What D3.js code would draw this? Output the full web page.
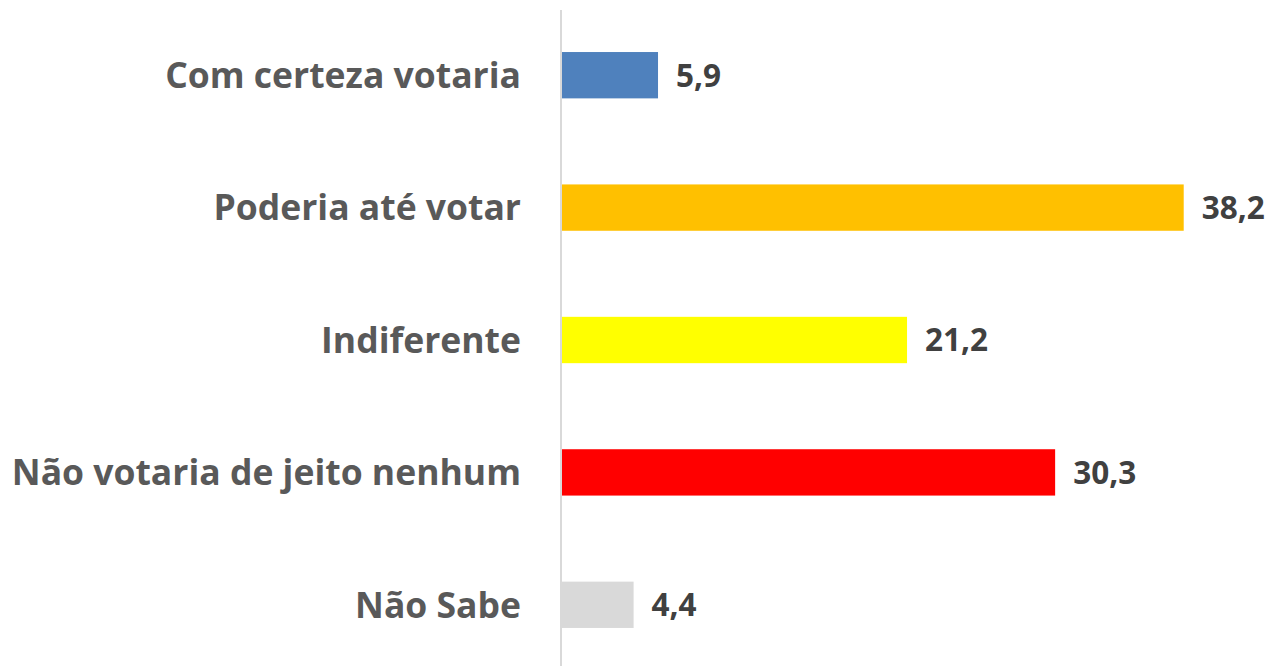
<!DOCTYPE html>
<html>
<head>
<meta charset="utf-8">
<script src="https://cdn.jsdelivr.net/npm/d3@7"></script>
<style>
  body { margin: 0; background: #fff; }
  text { font-family: "Open Sans", sans-serif; font-weight: bold; }
</style>
</head>
<body>
<svg id="chart" width="1270" height="666"></svg>
<script>
const categories = ['Com certeza votaria', 'Poderia até votar', 'Indiferente', 'Não votaria de jeito nenhum', 'Não Sabe'];
const values = [5.9, 38.2, 21.2, 30.3, 4.4];
const colors = ['#4f81bd', '#ffc000', '#ffff00', '#ff0000', '#d9d9d9'];

const data = categories.map((c, i) => ({ cat: c, val: values[i], color: colors[i] }));

const svg = d3.select('#chart');
const x = d3.scaleLinear().domain([0, 40]).range([562, 1213]);
const y = d3.scaleBand().domain(categories).range([9, 671]).paddingInner(0.65).paddingOuter(0.325);

// bars
svg.append('g').selectAll('rect').data(data).enter().append('rect')
  .attr('x', x(0))
  .attr('y', d => y(d.cat))
  .attr('width', d => x(d.val) - x(0))
  .attr('height', y.bandwidth())
  .attr('fill', d => d.color);

// vertical axis line
svg.append('line')
  .attr('x1', x(0) - 1).attr('x2', x(0) - 1)
  .attr('y1', 10).attr('y2', 666)
  .attr('stroke', '#d9d9d9').attr('stroke-width', 2);

// category labels
svg.append('g').selectAll('text').data(data).enter().append('text')
  .attr('x', 521)
  .attr('y', d => y(d.cat) + y.bandwidth() / 2)
  .attr('dy', '0.36em')
  .attr('text-anchor', 'end')
  .attr('fill', '#595959')
  .style('font-size', '35.5px')
  .text(d => d.cat);

// value labels
const fmt = v => d3.format('.1f')(v).replace('.', ',');
svg.append('g').selectAll('text').data(data).enter().append('text')
  .attr('x', d => x(d.val) + 18)
  .attr('y', d => y(d.cat) + y.bandwidth() / 2)
  .attr('dy', '0.36em')
  .attr('fill', '#404040')
  .style('font-size', '31.5px')
  .text(d => fmt(d.val));
</script>
</body>
</html>
